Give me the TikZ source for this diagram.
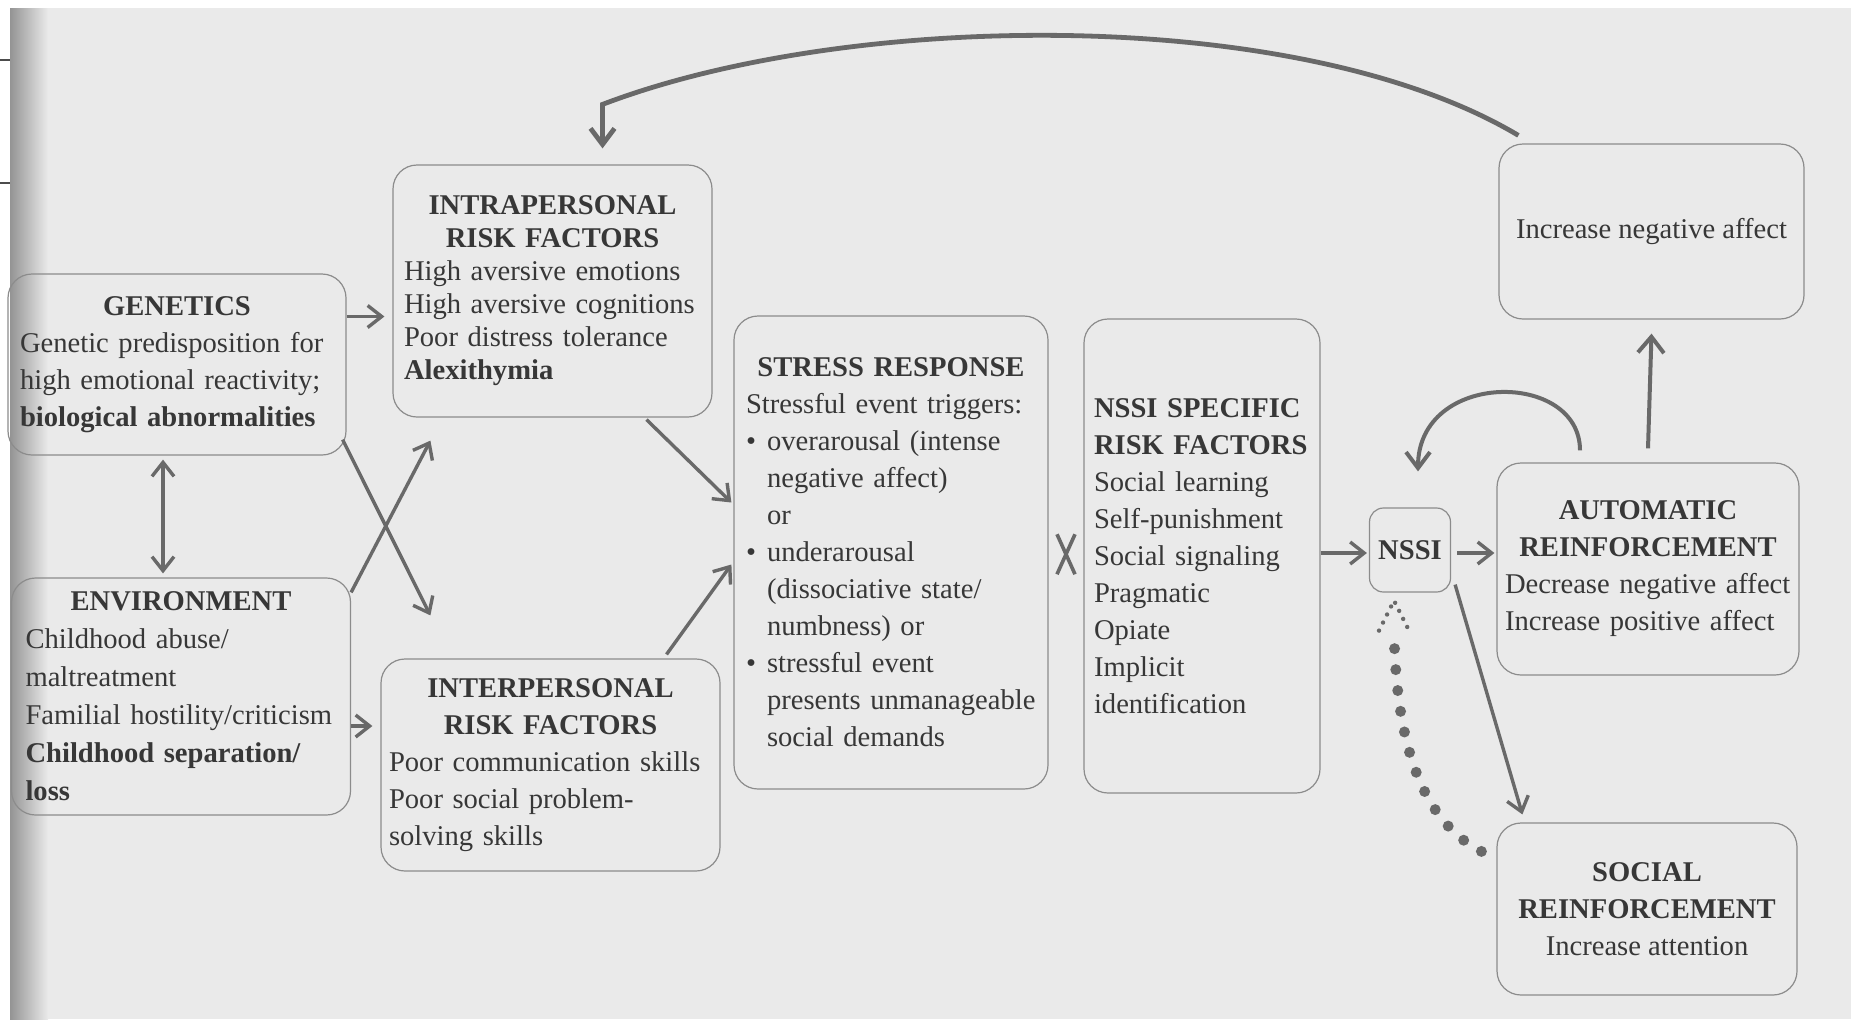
\documentclass[tikz,border=0pt]{standalone}
\usepackage{fontspec}
\setmainfont{Liberation Serif}
\usetikzlibrary{arrows.meta,calc}
\definecolor{paper}{RGB}{234,234,234}
\definecolor{ink}{RGB}{55,55,55}
\definecolor{rim}{RGB}{140,140,140}
\definecolor{wire}{RGB}{105,105,105}
\hyphenpenalty=10000
\newcommand{\hd}[1]{{\centering\bfseries #1\par}}
\newcommand{\itm}[1]{{\noindent\hangindent=10.5pt\hangafter=1\makebox[10.5pt][l]{\textbullet}#1\par}}

\begin{document}
\begin{tikzpicture}[x=0.5pt, y=-0.5pt,
  box/.style={draw=rim, line width=0.6pt, rounded corners=12pt, text=ink, align=left, inner ysep=3pt, font=\fontsize{14.3}{18.5}\selectfont},
  arr/.style={draw=wire, line width=1.7pt, -{Straight Barb[length=7pt,width=11pt]}},
  dbl/.style={draw=wire, line width=1.7pt, {Straight Barb[length=7pt,width=11pt]}-{Straight Barb[length=7pt,width=11pt]}},
  bigdots/.style={draw=wire, line width=5.5pt, line cap=round, dash pattern=on 0pt off 10.5pt},
  smalldots/.style={draw=wire, line width=2.2pt, line cap=round, dash pattern=on 0pt off 4.5pt}]
\fill[paper] (0,0) rectangle (1851,1019);
\useasboundingbox (0,0) rectangle (1851,1019);
\fill[white] (0,0) rectangle (10,1019);
\shade[left color=black!42, right color=paper] (10,0) rectangle (48,1019);
\fill[white] (0,0) rectangle (1851,8);
\draw[black!70, line width=0.8pt] (0,60) -- (10,60) (0,183) -- (10,183);

\node[box, text width=157pt, inner xsep=6pt, minimum height=90.5pt] (gen) at (177,364.5) {\hd{GENETICS}Genetic predisposition for\\high emotional reactivity;\\\textbf{biological abnormalities}};
\node[box, text width=155.5pt, inner xsep=7pt, minimum height=118.5pt, font=\fontsize{14.3}{19}\selectfont] (env) at (181,696.5) {\hd{ENVIRONMENT}Childhood abuse/\\maltreatment\\Familial hostility/criticism\\\textbf{Childhood separation/\\loss}};
\node[box, text width=148.5pt, inner xsep=5.5pt, minimum height=126pt, font=\fontsize{14.3}{16.5}\selectfont] (intra) at (552.5,291) {\hd{INTRAPERSONAL\\RISK FACTORS}High aversive emotions\\High aversive cognitions\\Poor distress tolerance\\\textbf{Alexithymia}};
\node[box, text width=161.5pt, inner xsep=4pt, minimum height=106pt] (inter) at (550.5,765) {\hd{INTERPERSONAL\\RISK FACTORS}Poor communication skills\\Poor social problem-\\solving skills};
\node[box, text width=145pt, inner xsep=6pt, minimum height=236.5pt] (stress) at (891,552.5) {\hd{STRESS RESPONSE}Stressful event triggers:\par\itm{overarousal (intense\newline negative affect)\newline or}\itm{underarousal\newline (dissociative state/\newline numbness) or}\itm{stressful event\newline presents unmanageable\newline social demands}};
\node[box, text width=108pt, inner xsep=5pt, minimum height=237pt] (nspec) at (1202,556) {\textbf{NSSI SPECIFIC\\RISK FACTORS}\\Social learning\\Self-punishment\\Social signaling\\Pragmatic\\Opiate\\Implicit\\identification};
\node[box, align=center, rounded corners=7pt, minimum width=40.5pt, minimum height=42pt, inner xsep=2pt, font=\fontsize{14.3}{18.5}\selectfont\bfseries] (nssi) at (1410,550) {NSSI};
\node[box, align=center, minimum width=152.5pt, minimum height=87.5pt] (incneg) at (1651.5,231.5) {Increase negative affect};
\node[box, text width=143pt, inner xsep=4pt, minimum height=106pt] (auto) at (1648,569) {\hd{AUTOMATIC\\REINFORCEMENT}Decrease negative affect\\Increase positive affect};
\node[box, align=center, minimum width=150pt, minimum height=86pt] (social) at (1647,909) {\textbf{SOCIAL}\\\textbf{REINFORCEMENT}\\Increase attention};

\coordinate (g1) at ([yshift=24pt]gen.east);
\coordinate (e1) at ([yshift=-14.75pt]env.east);
\coordinate (g2) at ([xshift=-7pt]gen.south);
\draw[arr, shorten >=4pt] (g1) -- (g1 -| intra.west);
\draw[arr, shorten >=4pt] (e1) -- (e1 -| inter.west);
\draw[dbl, shorten <=2pt, shorten >=2pt] (g2) -- (g2 |- env.north);
\draw[arr] ([xshift=-2pt,yshift=8pt]gen.south east) -- ([xshift=25pt,yshift=21.5pt]inter.north west);
\draw[arr] ([yshift=-7.5pt]env.north east) -- ([xshift=19pt,yshift=-11.5pt]intra.south west);
\draw[arr] ([xshift=47pt,yshift=-1pt]intra.south) -- ([xshift=-1pt,yshift=25pt]stress.west);
\draw[arr] ([xshift=58pt,yshift=2pt]inter.north) -- ([xshift=-1pt,yshift=-6pt]stress.west);

\coordinate (xm) at ($(stress.east)!0.5!(nspec.west)$);
\draw[wire, line width=1.8pt] ([shift={(-4.5pt,10pt)}]xm) -- ([shift={(4.5pt,-10pt)}]xm)
  ([shift={(4.5pt,10pt)}]xm) -- ([shift={(-4.5pt,-10pt)}]xm);

\coordinate (n1) at ([yshift=-1.5pt]nspec.east |- nssi.west);
\draw[arr, shorten >=1pt] (n1) -- (n1 -| nssi.west);
\coordinate (n2) at ([yshift=-1.5pt]nssi.east);
\draw[arr, shorten <=3pt, shorten >=1pt] (n2) -- (n2 -| auto.west);
\draw[arr, line width=2pt, -{Straight Barb[length=8pt,width=13pt]}] ([yshift=7pt]auto.north) -- ([yshift=-7pt]incneg.south);
\draw[arr, line width=2pt, -{Straight Barb[length=8pt,width=12pt]}] ([xshift=-34pt,yshift=6pt]auto.north) .. controls (1580,370) and (1418,370) .. ([xshift=4pt,yshift=18pt]nssi.north);
\draw[arr] ([xshift=2pt,yshift=4pt]nssi.south east) -- ([xshift=13pt,yshift=4pt]social.north west);

\coordinate (dtip) at ([xshift=-8pt,yshift=-4pt]nssi.south);
\draw[bigdots] ([shift={(-7.5pt,-14.5pt)}]social.north west) .. controls (1420,820) and (1396,740) .. ([yshift=-15pt]dtip);
\draw[smalldots] ([shift={(-7.5pt,-15pt)}]dtip) -- (dtip) -- ([shift={(7.5pt,-15pt)}]dtip);

\draw[arr, line width=2.4pt, -{Straight Barb[length=8pt,width=12pt]}] ([xshift=10pt,yshift=4pt]incneg.north west) .. controls (1300,5) and (850,10) .. ([xshift=25pt,yshift=30pt]intra.north) -- ([xshift=25pt,yshift=8pt]intra.north);
\end{tikzpicture}
\end{document}
